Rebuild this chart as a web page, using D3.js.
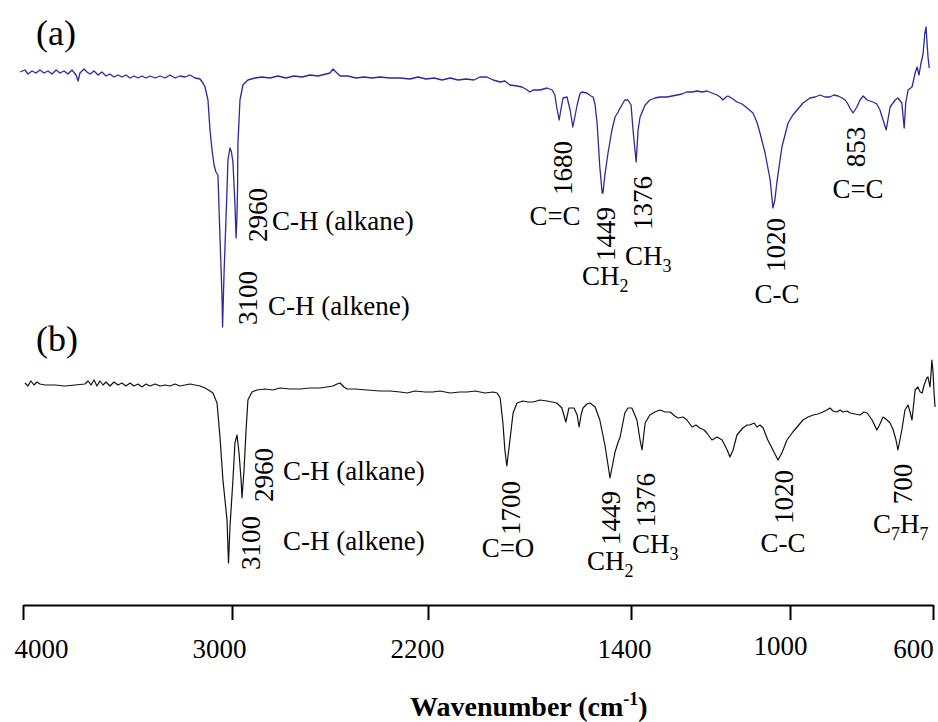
<!DOCTYPE html>
<html>
<head>
<meta charset="utf-8">
<script src="https://cdn.jsdelivr.net/npm/d3@7"></script>
<style>
  body { margin: 0; background: #fff; }
  text { font-family: "Liberation Serif", "Times New Roman", serif; fill: #000; }
</style>
</head>
<body>
<svg id="chart" width="938" height="722"></svg>
<script>
// ---- spectrum (a): wavenumber (cm-1) and transmittance (a.u.)
var wnA = [4000,3973,3957,3935,3914,3892,3870,3849,3827,3805,3784,3762,3741,3719,3697,3686,3676,3654,3638,3622,
  3600,3578,3557,3535,3514,3492,3470,3449,3427,3405,3384,3362,3341,3319,3297,3270,3243,3216,3189,3162,
  3135,3108,3081,3054,3027,3011,3000,2984,2973,2962,2951,2941,2930,2919,2908,2905,2897,2892,2881,2876,
  2865,2857,2849,2838,2832,2827,2824,2822,2816,2811,2795,2768,2730,2692,2649,2605,2562,2519,2476,2432,
  2389,2346,2324,2308,2292,2270,2227,2184,2141,2097,2054,2000,
  1974,1949,1928,1908,1887,1867,1846,1826,1805,1785,1770,1752,1736,1718,1706,1693,1675,1662,1649,1642,
  1634,1616,1598,1585,1578,1573,1567,1562,1557,1547,1539,1532,1526,1521,1514,1509,1496,1486,1480,1475,
  1470,1463,1457,1455,1450,1442,1432,1424,1416,1411,1399,1391,1383,1378,1370,1365,1360,1347,1335,1322,
  1309,1291,1278,1265,1253,1240,1227,1214,1201,1189,1176,1163,1155,1148,1140,1135,1122,1112,1099,1086,
  1071,1061,1053,1040,1027,1020,1015,1010,997,981,969,958,943,925,912,899,887,874,864,853,
  843,835,828,823,815,805,797,789,779,764,754,746,738,730,720,707,700,690,684,680,
  674,664,661,656,651,646,641,636,631,628,626,623,620];
var tA = [129,130,128,129.5,128.5,130,128.5,129.5,128,130,128.5,129.5,128,130,127.5,124.5,128.5,130.5,129,128,
  129.5,127.5,129,127,128,126.5,127.5,126.5,127.5,126,127,126,127,126,127,126,127,126,127.5,126,
  127,126.5,127.5,126,125.5,123.5,121.5,115,100,90,82.5,79,77.5,46.5,16.5,1.5,28.5,41.5,70,85,
  91,89,84,62.5,46,57.5,71.5,93.5,105,115,122.5,125,126,126.5,126,127,126,127,126.5,127.5,
  127,128,128.5,130.5,129,127,127,126,126.5,126,126.5,126,
  126,125.5,126.5,125.5,126,125,126,125,125.5,125,126.5,126.5,125,124,124.5,122.5,122,121.5,120,119,
  120,120,121,120,117.5,111,105,111,116,116.5,110,101.5,107.5,112.5,118,119,118.5,117,116.5,112.5,
  103.5,81.5,68.5,68.5,77.5,88.5,100,106.5,109,111,115,115,112.5,100,84,100,106.5,112.5,115,116,
  116.5,116.5,117,117.5,118,119,119,119.5,119,119.5,118.5,117.5,116.5,115,116.5,117,115.5,114,113,111,
  108.5,104,98.5,88.5,75,61,65,73.5,91.5,103.5,107.5,110,113.5,116,116.5,117.5,116.5,116.5,117.5,117,
  116,115,113,111,108.5,111.5,115,117,115,114,113,110,105,100,111.5,115,116,113.5,101,113.5,
  120,121.5,124,128.5,131.5,127.5,133.5,137.5,148.5,151.5,145,136.5,131];

// ---- spectrum (b)
var wnB = [3973,3957,3941,3924,3908,3892,3865,3811,3757,3703,3649,3632,3616,3600,3584,3568,3551,3535,3514,3492,
  3470,3449,3427,3405,3384,3362,3341,3319,3297,3270,3243,3216,3189,3162,3135,3108,3081,3054,3027,3000,
  2973,2957,2935,2919,2903,2892,2881,2873,2865,2849,2838,2827,2816,2805,2800,2789,2778,2768,2746,2719,
  2676,2632,2595,2541,2486,2432,2378,2341,2308,2286,2270,2249,2232,2189,2124,2054,2000,
  1974,1956,1936,1910,1890,1872,1846,1821,1803,1782,1757,1736,1726,1718,1711,1706,1701,1693,1685,1675,
  1660,1647,1634,1616,1598,1585,1573,1560,1550,1542,1529,1521,1516,1511,1506,1496,1488,1475,1463,1450,
  1442,1437,1432,1424,1416,1411,1399,1391,1381,1368,1360,1355,1347,1335,1322,1309,1296,1283,1271,1263,
  1250,1240,1227,1217,1207,1196,1189,1176,1163,1150,1137,1130,1122,1112,1097,1086,1079,1068,1061,1053,
  1045,1033,1020,1007,997,984,969,956,943,930,917,905,892,882,874,866,856,848,841,830,
  823,810,797,787,779,766,754,746,738,728,720,712,705,700,695,690,682,674,669,664,
  656,649,643,638,633,631,626,623,620,618,615,613,610,608,605];
var tB = [93.5,92,94.5,92.5,94,93,92.5,92.5,92,92.5,93,94.5,92.5,95,92,94.5,92.5,94,92,94,
  92.5,93.5,92,93.5,92,93,91.5,93,92,93,92,92.5,92,93,92,92.5,93,92.5,92,91,
  89.5,88.5,83.5,66.5,45,35,25,3.5,21.5,45,63.5,67.5,58.5,45,36,50,70,85,89,90,
  90.5,90,91,90.5,90.5,91,91,91.5,92,93,93.5,91.5,90.5,90.5,90,89.5,89.5,
  89,88.5,89.5,89,89,89.5,88.5,89,89,89.5,88.5,89,88.5,86,73.5,60,52,65,78.5,83.5,
  84.5,84,84,85,84.5,84,83.5,81,74,81,81,77.5,71.5,77.5,81,83,83.5,81.5,75,62.5,
  52.5,46,51,59,64,66.5,78.5,81,81,75,65,60,73.5,77.5,79,80,79,79,77,76,
  76.5,75,71.5,72.5,71,70,68.5,65,66.5,65,60,56.5,60,67.5,71,72.5,72.5,73.5,71.5,72.5,
  71,65,60,55,58.5,65,69,72,75,76.5,77.5,78,79,80,81,79.5,79,80,79,79.5,
  78.5,78,77.5,79,78.5,75,70,73,76.5,75,73.5,70,65,60,65,70,80,82.5,79,75,
  90,91.5,89,88.5,92.5,93.5,96,96.5,93.5,91.5,99,105,98.5,90,81.5];

// ---- x axis ticks and annotations
var tickValues = [4000, 3000, 2200, 1400, 1000, 600];
var peaksA = ["2960", "3100", "1680", "1449", "1376", "1020", "853"];
var groupsA = ["C-H (alkane)", "C-H (alkene)", "C=C", "CH_2", "CH_3", "C-C", "C=C"];
var peaksB = ["2960", "3100", "1700", "1449", "1376", "1020", "700"];
var groupsB = ["C-H (alkane)", "C-H (alkene)", "C=O", "CH_2", "CH_3", "C-C", "C_7H_7"];

// layout of the annotations (pixels)
var numPosA = [[267, 215], [257, 298], [572, 168], [615, 234], [652, 203], [785, 245], [865, 147]];
var grpPosA = [[272, 230, "start"], [268, 315, "start"], [555, 225, "middle"], [582, 285, "start"],
               [625, 265, "start"], [777, 303, "middle"], [858, 198, "middle"]];
var numPosB = [[273, 475], [260, 543], [520, 508], [620, 518], [655, 500], [793, 497], [912, 484]];
var grpPosB = [[283, 480, "start"], [283, 550, "start"], [508, 557, "middle"], [587, 570, "start"],
               [632, 553, "start"], [783, 552, "middle"], [873, 533, "start"]];

var serif = "'Liberation Serif', 'Times New Roman', serif";
var svg = d3.select("#chart");

// spectra are plotted with the usual 2000 cm-1 scale break
var x = d3.scaleLinear().domain([4000, 2000, 600]).range([20, 390, 937]);
// hand drawn axis: positions of the printed ticks
var xTicks = d3.scaleLinear().domain(tickValues).range([23, 232, 428, 631, 790, 933]);
var yA = d3.scaleLinear().domain([0, 150]).range([330, 30]);
var yB = d3.scaleLinear().domain([0, 150]).range([570, 270]);

function drawSpectrum(wn, t, y, color, width) {
  var line = d3.line()
      .x(function(d) { return x(d[0]); })
      .y(function(d) { return y(d[1]); });
  svg.append("path")
      .datum(d3.zip(wn, t))
      .attr("fill", "none")
      .attr("stroke", color)
      .attr("stroke-width", width)
      .attr("stroke-linejoin", "round")
      .attr("d", line);
}

drawSpectrum(wnA, tA, yA, "#2a2a9e", 1.3);
drawSpectrum(wnB, tB, yB, "#111", 1.2);

// text with "_n" meaning subscript n
function richText(sel, s) {
  var shift = 0;
  s.split(/(_\d)/).forEach(function(part) {
    if (!part) return;
    if (part[0] === "_") {
      sel.append("tspan").attr("dy", 7).style("font-size", "18px").text(part[1]);
      shift = -7;
    } else {
      sel.append("tspan").attr("dy", shift).text(part);
      shift = 0;
    }
  });
}

function annotate(peaks, numPos, groups, grpPos) {
  peaks.forEach(function(p, i) {
    svg.append("text")
        .attr("transform", "translate(" + numPos[i][0] + "," + numPos[i][1] + ") rotate(-90)")
        .attr("text-anchor", "middle")
        .style("font-size", "27px")
        .text(p);
  });
  groups.forEach(function(g, i) {
    var t = svg.append("text")
        .attr("x", grpPos[i][0])
        .attr("y", grpPos[i][1])
        .attr("text-anchor", grpPos[i][2])
        .style("font-size", "27px");
    richText(t, g);
  });
}

annotate(peaksA, numPosA, groupsA, grpPosA);
annotate(peaksB, numPosB, groupsB, grpPosB);

// panel letters
svg.append("text").attr("x", 36).attr("y", 45).style("font-size", "36px").text("(a)");
svg.append("text").attr("x", 36).attr("y", 351).style("font-size", "36px").text("(b)");

// x axis
var labelDx = [18, -13, -11, -7, -10, -20];
var labelDy = [0, 0, 0, 0, -3, 0];
var gx = svg.append("g")
    .attr("transform", "translate(0,605)")
    .call(d3.axisBottom(xTicks).tickValues(tickValues).tickSize(15).tickSizeOuter(0)
      .tickFormat(d3.format("d")));
gx.attr("font-family", serif).attr("font-size", 27);
gx.select(".domain").attr("stroke", "#000").attr("stroke-width", 2);
gx.selectAll(".tick line").attr("stroke", "#000").attr("stroke-width", 2);
gx.selectAll(".tick text")
    .attr("y", 53)
    .attr("dy", function(d, i) { return labelDy[i]; })
    .attr("dx", function(d, i) { return labelDx[i]; })
    .attr("fill", "#000")
    .style("font-family", serif)
    .style("font-size", "27px");

var title = svg.append("text")
    .attr("x", 410)
    .attr("y", 716)
    .style("font-size", "28px")
    .style("font-weight", "bold")
    .text("Wavenumber (cm");
title.append("tspan").attr("dy", -11).style("font-size", "18px").text("-1");
title.append("tspan").attr("dy", 11).text(")");
</script>
</body>
</html>
